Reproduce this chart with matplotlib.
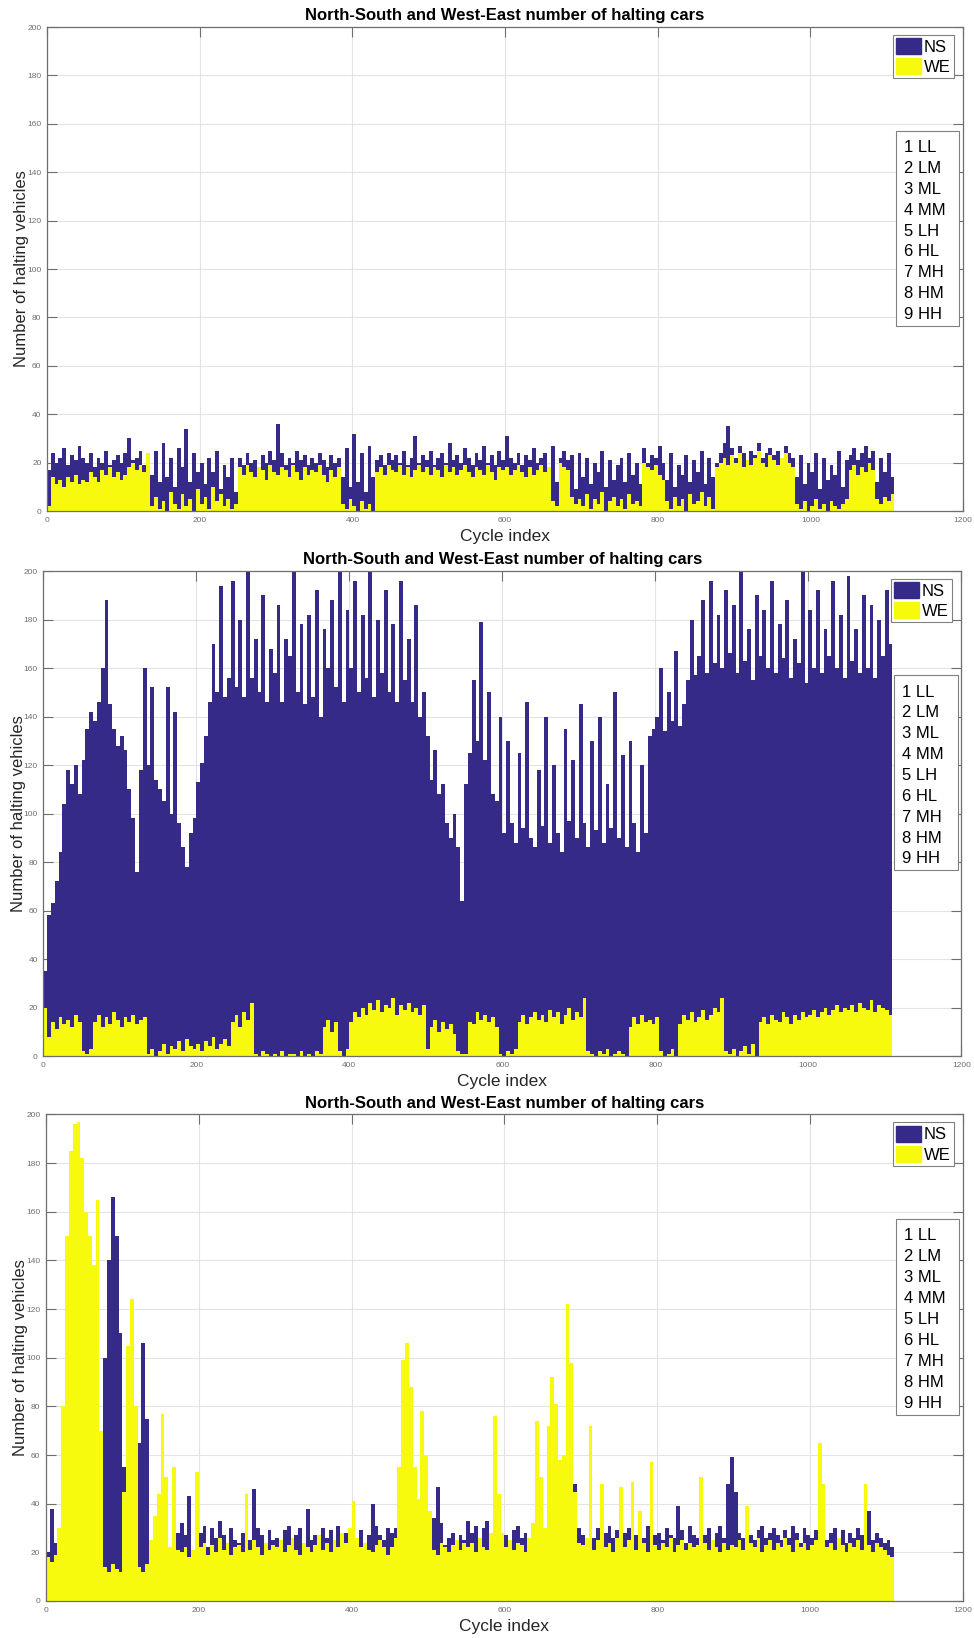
import numpy as np
import matplotlib
matplotlib.use("Agg")
import matplotlib.pyplot as plt
from matplotlib.patches import Patch, Rectangle

plt.rcParams['font.family'] = ['Liberation Sans', 'DejaVu Sans']

# halting cars per cycle, averaged over blocks of 5 cycles (cycles 0..1110)
BIN = 5

ns_1 = [17, 24, 20, 22, 26, 19, 23, 21, 27, 22,
        20, 24, 18, 22, 20, 25, 19, 21, 23, 20,
        24, 30, 21, 22, 25, 19, 23, 15, 25, 12,
        28, 14, 22, 10, 26, 18, 34, 12, 24, 16,
        20, 11, 22, 16, 25, 9, 19, 14, 22, 8,
        22, 19, 24, 20, 21, 18, 23, 20, 25, 21,
        36, 24, 19, 22, 20, 25, 21, 23, 19, 22,
        20, 24, 21, 18, 23, 20, 22, 14, 26, 10,
        32, 12, 24, 8, 27, 14, 21, 23, 19, 24,
        21, 23, 20, 25, 19, 22, 31, 20, 23, 21,
        25, 19, 22, 24, 20, 28, 21, 23, 20, 26,
        22, 19, 24, 21, 27, 20, 23, 19, 25, 21,
        31, 22, 20, 24, 19, 23, 21, 26, 20, 22,
        24, 18, 27, 12, 22, 25, 21, 23, 9, 24,
        14, 22, 11, 20, 16, 25, 10, 21, 13, 19,
        22, 12, 24, 15, 20, 11, 26, 20, 23, 22,
        27, 20, 13, 24, 10, 19, 15, 23, 12, 21,
        16, 25, 11, 22, 14, 20, 24, 28, 35, 26,
        22, 27, 24, 21, 25, 23, 28, 22, 24, 26,
        23, 25, 21, 27, 24, 22, 14, 23, 11, 20,
        16, 24, 9, 22, 13, 19, 15, 25, 10, 21,
        23, 26, 21, 24, 27, 22, 25, 12, 22, 16,
        24, 14]
we_1 = [2, 14, 11, 13, 10, 14, 12, 15, 11, 13,
        12, 16, 14, 12, 17, 15, 18, 14, 16, 13,
        15, 18, 20, 17, 19, 16, 24, 2, 6, 1,
        4, 0, 8, 3, 1, 7, 2, 5, 0, 9,
        3, 6, 1, 10, 4, 7, 2, 5, 1, 3,
        18, 15, 19, 16, 14, 18, 17, 13, 19, 16,
        15, 18, 17, 14, 19, 16, 13, 18, 15, 17,
        16, 19, 15, 12, 17, 14, 18, 3, 1, 5,
        2, 0, 4, 1, 3, 0, 16, 18, 15, 19,
        17, 16, 19, 15, 18, 14, 17, 19, 16, 18,
        15, 18, 17, 14, 19, 16, 18, 15, 17, 19,
        16, 14, 18, 17, 15, 19, 16, 13, 18, 17,
        18, 15, 17, 19, 16, 14, 18, 15, 17, 19,
        16, 18, 4, 2, 20, 18, 17, 6, 3, 5,
        2, 7, 1, 5, 3, 8, 0, 4, 6, 2,
        5, 1, 7, 3, 4, 2, 20, 18, 17, 19,
        15, 13, 4, 1, 6, 2, 5, 0, 7, 3,
        4, 8, 2, 6, 1, 18, 20, 22, 19, 23,
        20, 24, 18, 21, 19, 22, 25, 20, 18, 23,
        21, 19, 22, 24, 20, 18, 3, 1, 4, 0,
        2, 5, 1, 3, 0, 4, 2, 1, 3, 5,
        17, 19, 15, 18, 16, 20, 17, 5, 3, 6,
        4, 7]

ns_2 = [35, 58, 63, 72, 84, 104, 118, 112, 120, 108,
        122, 135, 142, 138, 146, 160, 188, 145, 135, 128,
        132, 126, 110, 98, 76, 118, 160, 120, 152, 114,
        110, 105, 152, 100, 142, 96, 86, 78, 92, 98,
        113, 121, 132, 146, 170, 150, 194, 148, 156, 196,
        152, 180, 148, 200, 156, 172, 150, 190, 146, 168,
        158, 186, 146, 172, 165, 200, 150, 178, 145, 182,
        148, 192, 140, 176, 160, 188, 152, 200, 146, 184,
        160, 196, 150, 182, 156, 200, 148, 180, 158, 192,
        150, 178, 146, 196, 155, 172, 146, 186, 140, 150,
        132, 114, 126, 108, 112, 96, 90, 100, 86, 64,
        112, 125, 155, 130, 179, 122, 150, 108, 105, 140,
        92, 130, 96, 88, 125, 94, 146, 90, 86, 118,
        95, 140, 88, 120, 92, 84, 135, 97, 122, 90,
        145, 96, 86, 130, 93, 140, 88, 112, 94, 150,
        90, 124, 86, 130, 96, 84, 120, 92, 132, 135,
        140, 160, 134, 150, 138, 167, 136, 145, 155, 180,
        157, 165, 188, 158, 196, 162, 182, 160, 192, 166,
        186, 158, 200, 163, 176, 155, 190, 165, 184, 160,
        196, 158, 178, 164, 188, 156, 172, 162, 200, 154,
        184, 160, 192, 158, 176, 165, 196, 160, 182, 156,
        198, 163, 176, 158, 190, 160, 186, 156, 180, 165,
        192, 170]
we_2 = [20, 8, 14, 11, 16, 13, 15, 12, 17, 14,
        2, 1, 3, 14, 17, 12, 16, 13, 18, 15,
        12, 16, 14, 17, 13, 15, 16, 1, 3, 0,
        2, 5, 1, 4, 3, 6, 2, 7, 4, 3,
        5, 2, 6, 4, 8, 3, 5, 7, 4, 14,
        17, 12, 18, 15, 22, 1, 0, 2, 1, 0,
        1, 0, 2, 0, 1, 1, 0, 2, 0, 1,
        0, 2, 1, 12, 15, 10, 14, 2, 0, 3,
        14, 18, 16, 20, 17, 22, 19, 23, 18, 21,
        20, 24, 17, 21, 19, 22, 18, 20, 17, 21,
        3, 12, 15, 10, 14, 11, 13, 9, 2, 1,
        1, 14, 13, 18, 15, 17, 14, 16, 12, 1,
        0, 2, 1, 3, 14, 17, 13, 16, 18, 15,
        17, 14, 19, 16, 18, 13, 17, 20, 15, 18,
        16, 24, 2, 1, 0, 2, 1, 3, 0, 1,
        2, 1, 0, 12, 16, 13, 17, 14, 15, 13,
        16, 2, 0, 1, 3, 0, 13, 17, 15, 18,
        14, 16, 19, 15, 17, 20, 18, 24, 2, 1,
        3, 0, 2, 4, 1, 5, 0, 14, 16, 13,
        17, 15, 14, 18, 16, 13, 17, 15, 18, 16,
        17, 19, 16, 18, 20, 17, 19, 21, 18, 20,
        19, 21, 18, 22, 20, 19, 23, 18, 21, 20,
        19, 17]

ns_3 = [20, 38, 24, 26, 25, 30, 40, 45, 50, 60,
        40, 45, 50, 60, 70, 100, 140, 166, 150, 110,
        55, 40, 35, 45, 65, 106, 75, 20, 28, 24,
        22, 26, 20, 24, 28, 32, 27, 43, 18, 20,
        28, 31, 22, 30, 26, 33, 27, 24, 30, 25,
        24, 28, 20, 25, 46, 30, 27, 22, 29, 25,
        26, 22, 29, 31, 24, 27, 30, 23, 38, 25,
        27, 24, 30, 26, 29, 23, 31, 25, 28, 27,
        30, 26, 29, 24, 27, 40, 31, 27, 25, 30,
        28, 30, 26, 25, 30, 28, 32, 30, 27, 26,
        30, 34, 47, 32, 23, 26, 28, 24, 27, 25,
        33, 28, 31, 26, 30, 33, 27, 24, 26, 22,
        27, 24, 29, 31, 26, 28, 24, 30, 25, 23,
        26, 28, 30, 25, 27, 29, 26, 28, 48, 30,
        27, 24, 29, 26, 30, 25, 28, 31, 26, 29,
        24, 28, 30, 25, 27, 29, 26, 31, 24, 27,
        28, 25, 30, 27, 26, 39, 29, 24, 31, 27,
        26, 29, 27, 30, 25, 28, 31, 26, 48, 59,
        45, 28, 26, 30, 27, 25, 29, 31, 26, 28,
        30, 27, 25, 29, 26, 31, 28, 24, 30, 27,
        26, 29, 31, 27, 25, 28, 30, 26, 29, 24,
        28, 26, 30, 27, 29, 37, 25, 28, 26, 24,
        25, 22]
we_3 = [18, 16, 19, 30, 80, 150, 185, 196, 197, 182,
        160, 150, 138, 165, 70, 14, 12, 15, 13, 12,
        45, 105, 124, 80, 14, 12, 15, 25, 35, 44,
        77, 51, 22, 55, 21, 20, 22, 18, 21, 53,
        22, 24, 19, 23, 20, 26, 21, 24, 19, 22,
        23, 20, 44, 21, 25, 22, 19, 24, 21, 23,
        22, 25, 20, 23, 26, 21, 19, 24, 22, 20,
        23, 27, 21, 24, 20, 25, 22, 28, 24, 30,
        41, 26, 22, 24, 21, 20, 23, 25, 22, 19,
        22, 26, 55, 99, 106, 88, 55, 42, 78, 60,
        37, 21, 19, 24, 22, 20, 23, 25, 21, 24,
        22, 24, 20, 26, 22, 21, 28, 76, 44, 28,
        22, 25, 21, 24, 23, 20, 26, 32, 74, 51,
        30, 72, 92, 81, 58, 60, 122, 98, 45, 24,
        23, 26, 72, 21, 25, 48, 22, 24, 20, 26,
        47, 22, 25, 49, 21, 37, 24, 20, 57, 23,
        21, 24, 22, 26, 20, 23, 25, 21, 24, 22,
        23, 51, 24, 21, 25, 22, 20, 24, 21, 23,
        22, 25, 21, 39, 24, 22, 26, 20, 23, 25,
        21, 24, 22, 26, 23, 20, 25, 22, 24, 21,
        23, 25, 65, 48, 22, 24, 21, 26, 23, 20,
        24, 22, 25, 21, 48, 23, 20, 24, 22, 21,
        19, 18]

scenario_labels = ['1 LL', '2 LM', '3 ML', '4 MM', '5 LH', '6 HL', '7 MH', '8 HM', '9 HH']
series_names = ['NS', 'WE']
title = 'North-South and West-East number of halting cars'

NS_COLOR = '#352a87'
WE_COLOR = '#f8fa0d'
GREY = '#6e6e6e'

fig = plt.figure(figsize=(9.74, 16.38), dpi=100)
boxes = [[0.0483, 0.688, 0.9405, 0.2955],
         [0.0445, 0.3553, 0.9425, 0.2961],
         [0.0472, 0.0226, 0.9415, 0.2970]]
panels = [(ns_1, we_1), (ns_2, we_2), (ns_3, we_3)]

for box, (ns, we) in zip(boxes, panels):
    ax = fig.add_axes(box)
    x = np.arange(len(ns)) * BIN
    ax.bar(x, ns, width=BIN, align='edge', color=NS_COLOR, linewidth=0)
    ax.bar(x, we, width=BIN, align='edge', color=WE_COLOR, linewidth=0)
    ax.set_xlim(0, 1200)
    ax.set_ylim(0, 200)
    ax.set_xticks(range(0, 1201, 200))
    ax.set_yticks(range(0, 201, 20))
    ax.grid(True, color='#e3e3e3', linewidth=0.8)
    ax.set_axisbelow(True)
    ax.tick_params(direction='in', length=7, width=0.8, colors=GREY,
                   labelsize=6, pad=4, top=True, right=True)
    for s in ax.spines.values():
        s.set_color(GREY)
        s.set_linewidth(0.9)
    ax.set_title(title, fontsize=12, fontweight='bold', pad=5)
    ax.set_xlabel('Cycle index', fontsize=12.5, color='#262626', labelpad=4)
    ax.set_ylabel('Number of halting vehicles', fontsize=12, color='#262626', labelpad=-1.5)
    handles = [Patch(facecolor=NS_COLOR, edgecolor=NS_COLOR),
               Patch(facecolor=WE_COLOR, edgecolor=WE_COLOR)]
    leg = ax.legend(handles, series_names, loc='upper right', bbox_to_anchor=(0.990, 0.984),
                    fontsize=12, fancybox=False, framealpha=1, edgecolor='#808080',
                    handlelength=1.5, handleheight=1.1, handletextpad=0.15,
                    labelspacing=0.22, borderpad=0.2, borderaxespad=0)
    leg.get_frame().set_linewidth(0.8)
    # scenario key box
    ax.add_patch(Rectangle((0.927, 0.383), 0.069, 0.402, transform=ax.transAxes,
                           facecolor='white', edgecolor='#808080', linewidth=0.8, zorder=5))
    for i, lab in enumerate(scenario_labels):
        ax.text(0.9355, 0.741 - i * 0.043, lab, transform=ax.transAxes,
                fontsize=12, va='baseline', ha='left', zorder=6)

fig.savefig('out.png', dpi=100)
